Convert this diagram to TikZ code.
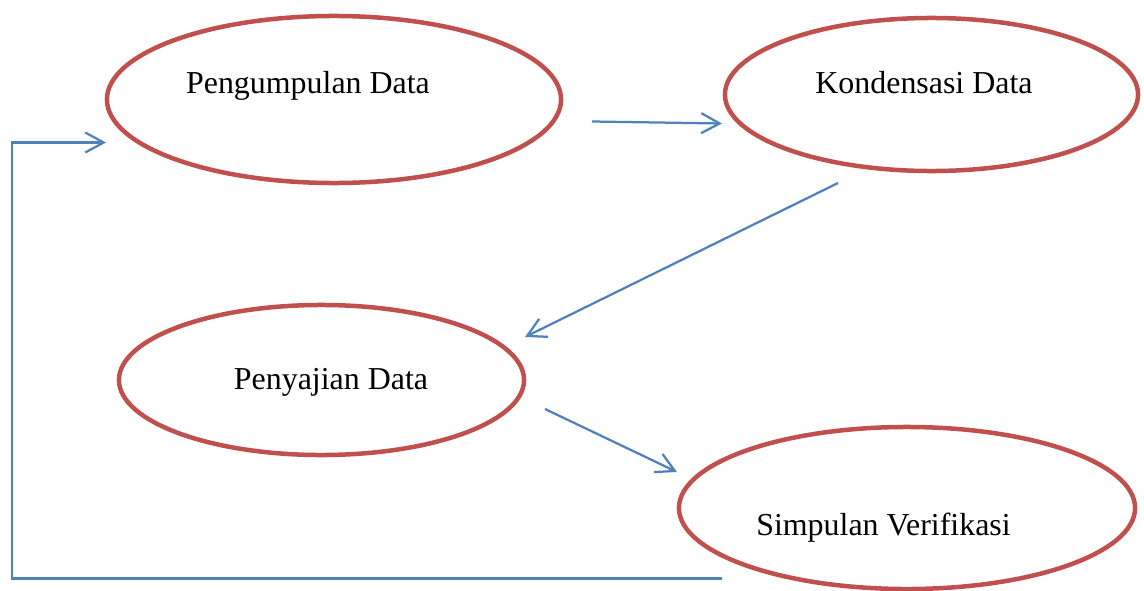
\documentclass[tikz,border=0pt]{standalone}
\usepackage{fontspec}
\setmainfont[Ligatures=NoCommon]{Liberation Serif}
\usetikzlibrary{shapes.geometric,arrows.meta}
\definecolor{ovalred}{HTML}{C0504D}
\definecolor{flowblue}{HTML}{4F81BD}
\tikzset{
  oval/.style={ellipse, draw=ovalred, line width=3.2pt, inner sep=0pt},
  ovallabel/.style={anchor=base, inner sep=0pt, font=\fontsize{22.7}{27}\selectfont},
  flow/.style={draw=flowblue, line width=1.6pt, -{Straight Barb[length=4.6mm,width=5mm]}},
}

\begin{document}
\begin{tikzpicture}[x=0.025cm, y=-0.025cm]
\useasboundingbox (0,0) rectangle (1144,591);
\node[oval, minimum width=11.35cm, minimum height=4.175cm] (kumpul) at (334,99.5) {};
\node[oval, minimum width=10.325cm, minimum height=3.825cm] (kondensasi) at (931.5,94.5) {};
\node[oval, minimum width=10.125cm, minimum height=3.75cm] (sajian) at (321.5,380) {};
\node[oval, minimum width=11.4cm, minimum height=4.05cm] (simpulan) at (907,508) {};
\node[ovallabel] (kumpultext) at (308,94) {Pengumpulan Data};
\node[ovallabel] (kondensasitext) at (924,94) {Kondensasi Data};
\node[ovallabel] (sajiantext) at (331,389) {Penyajian Data};
\node[ovallabel] (simpulantext) at (883.5,535) {Simpulan Verifikasi};
\coordinate (k1) at (592,121.5);
\coordinate (k2) at (722,123.5);
\coordinate (s1) at (838,183);
\coordinate (s2) at (525,337);
\coordinate (v1) at (545,409);
\coordinate (v2) at (677,472);
\coordinate (b1) at (722,578.5);
\coordinate (b2) at (12,578.5);
\coordinate (b3) at (12,142.5);
\coordinate (b4) at (106,142.5);
\draw[flow] (k1) -- (k2);
\draw[flow] (s1) -- (s2);
\draw[flow] (v1) -- (v2);
\draw[flow] (b1) -- (b2) -- (b3) -- (b4);
\end{tikzpicture}
\end{document}
